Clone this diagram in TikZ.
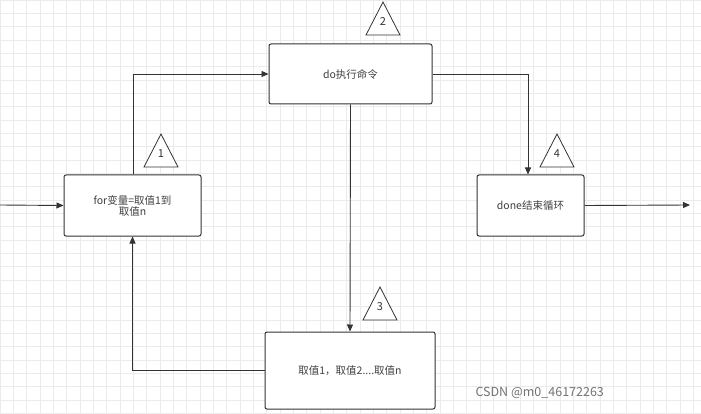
\documentclass[tikz,border=0pt]{standalone}
\usepackage{fontspec}
\setmainfont{Noto Sans CJK SC}
\usetikzlibrary{arrows.meta}
\begin{document}
\begin{tikzpicture}[x=1pt,y=-1pt,
  box/.style={draw=black!80,line width=1pt,rounded corners=2pt,fill=white,font=\fontsize{10.5}{11}\selectfont,text=black!75,align=center},
  conn/.style={draw=black!80,line width=0.9pt,-{Triangle[length=7pt,width=6pt]}},
  tri/.style={draw=black!80,line width=0.8pt,fill=white}]
\useasboundingbox (0,0) rectangle (701,414);
\fill[white] (0,0) rectangle (701,414);
\foreach \i in {0,...,53} \draw[black!8,line width=0.5pt] (\i*13.33,0) -- (\i*13.33,414);
\foreach \i in {0,...,31} \draw[black!8,line width=0.5pt] (0,\i*13.33) -- (701,\i*13.33);
\node[box,minimum width=137pt,minimum height=61pt] (for) at (132.5,205.5) {for变量=取值1到\\取值n};
\node[box,minimum width=163pt,minimum height=60pt] (do) at (350.5,74) {do执行命令};
\node[box,minimum width=107pt,minimum height=61pt] (done) at (530.5,205.5) {done结束循环};
\node[box,minimum width=170pt,minimum height=77pt] (val) at (350,370.5) {取值1，取值2....取值n};
\coordinate (in) at (0,205);
\coordinate (out) at (690,205);
\draw[conn] (in) -- (for.west);
\draw[conn] (for.north -| 133,0) |- (do.west);
\draw[conn] (do.east) -| (done.north -| 528,0);
\draw[conn] (done.east) -- (out);
\draw[conn] (do.south) -- (val.north);
\draw[conn] (val.west) -| (for.south);
\foreach \n/\x/\y in {1/161/134,2/383/2,3/380/287,4/557/134}{
  \draw[tri] (\x,\y) -- (\x+17,\y+33) -- (\x-17,\y+33) -- cycle;
  \node[font=\fontsize{11}{12}\selectfont,text=black!80] (t\n) at (\x,\y+20) {\n};
}
\node[font=\fontsize{12.5}{13}\selectfont,text=black!55,anchor=west] (wm) at (472,393) {CSDN @m0\_46172263};
\end{tikzpicture}
\end{document}
